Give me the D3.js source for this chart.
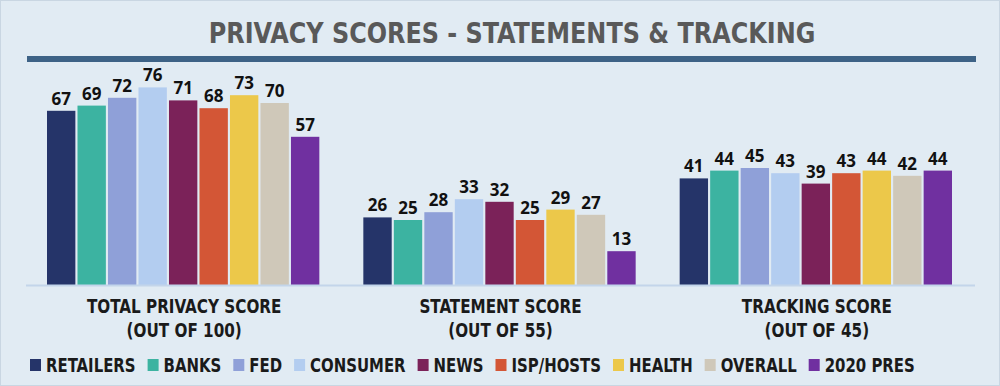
<!DOCTYPE html>
<html>
<head>
<meta charset="utf-8">
<script src="https://cdn.jsdelivr.net/npm/d3@7"></script>
<style>
  body { margin: 0; background: #e1ebf3; }
  svg { display: block; }
  .cond { font-family: "Liberation Sans Narrow", "DejaVu Sans Condensed", sans-serif; font-weight: bold; }
</style>
</head>
<body>
<div id="main_area"></div>
<script>
// 数据
var groups = ["TOTAL PRIVACY SCORE", "STATEMENT SCORE", "TRACKING SCORE"];
var groupSub = ["(OUT OF 100)", "(OUT OF 55)", "(OUT OF 45)"];
var seriesNames = ["RETAILERS", "BANKS", "FED", "CONSUMER", "NEWS", "ISP/HOSTS", "HEALTH", "OVERALL", "2020 PRES"];
var totalScore = [67, 69, 72, 76, 71, 68, 73, 70, 57];
var statementScore = [26, 25, 28, 33, 32, 25, 29, 27, 13];
var trackingScore = [41, 44, 45, 43, 39, 43, 44, 42, 44];
var colors = ["#253469", "#3cb3a1", "#8fa0d8", "#b3cdf0", "#7b2259", "#d35636", "#ecc84a", "#cfc8b9", "#7030a0"];

var values = [totalScore, statementScore, trackingScore];

var W = 1000, H = 386;
var svg = d3.select("#main_area").append("svg")
    .attr("width", W)
    .attr("height", H);

svg.append("rect")
    .attr("x", 0.5).attr("y", 0.5)
    .attr("width", W - 1).attr("height", H - 1)
    .attr("fill", "#e1ebf3")
    .attr("stroke", "#c9d6e2");

// 窄字体：横向压缩
function condText(parent, x, y, size, sx, anchor, txt, fill) {
    return parent.append("text")
        .attr("class", "cond")
        .attr("transform", "translate(" + x + "," + y + ") scale(" + sx + ",1)")
        .attr("text-anchor", anchor)
        .attr("font-size", size)
        .attr("fill", fill)
        .text(txt);
}

// 标题
condText(svg, 512, 43, 28, 0.95, "middle", "PRIVACY SCORES - STATEMENTS & TRACKING", "#595959");

svg.append("rect")
    .attr("x", 27).attr("y", 56)
    .attr("width", 949).attr("height", 6)
    .attr("fill", "#3d6286");

// 比例尺
var x0 = d3.scaleBand()
    .domain(groups)
    .range([26, 975])
    .paddingInner(0)
    .paddingOuter(0);
var x1 = d3.scaleBand()
    .domain(seriesNames)
    .range([21, x0.bandwidth() - 23])
    .paddingInner(0.07);
var y = d3.scaleLinear()
    .domain([0, 100])
    .range([285, 25]);

var g = svg.selectAll("g.grp")
    .data(groups)
    .enter()
    .append("g")
    .attr("class", "grp")
    .attr("transform", function (d) { return "translate(" + x0(d) + ",0)"; });

g.selectAll("rect")
    .data(function (d, i) {
        return values[i].map(function (v, j) { return {name: seriesNames[j], v: v, c: colors[j]}; });
    })
    .enter()
    .append("rect")
    .attr("x", function (d) { return x1(d.name); })
    .attr("y", function (d) { return y(d.v); })
    .attr("width", x1.bandwidth())
    .attr("height", function (d) { return y(0) - y(d.v); })
    .attr("fill", function (d) { return d.c; });

g.selectAll("text.val")
    .data(function (d, i) {
        return values[i].map(function (v, j) { return {name: seriesNames[j], v: v}; });
    })
    .enter()
    .append("text")
    .attr("class", "val")
    .attr("x", function (d) { return x1(d.name) + x1.bandwidth() / 2; })
    .attr("y", function (d) { return y(d.v) - 6; })
    .attr("text-anchor", "middle")
    .attr("font-family", "'Open Sans', sans-serif")
    .attr("font-size", 17)
    .attr("font-weight", "bold")
    .attr("fill", "#111")
    .text(function (d) { return d.v; });

// x轴
svg.append("line")
    .attr("x1", 26).attr("x2", 975)
    .attr("y1", y(0) + 0.5).attr("y2", y(0) + 0.5)
    .attr("stroke", "#c3d5ea")
    .attr("stroke-width", 2);

g.each(function (d, i) {
    var gg = d3.select(this);
    condText(gg, x0.bandwidth() / 2, 313, 19, 0.89, "middle", d, "#1a1a1a");
    condText(gg, x0.bandwidth() / 2, 337, 19, 0.89, "middle", groupSub[i], "#1a1a1a");
});

// 图例
var lg = svg.append("g");
var lx = 30;
seriesNames.forEach(function (name, i) {
    lg.append("rect")
        .attr("x", lx).attr("y", 359)
        .attr("width", 11).attr("height", 12)
        .attr("fill", colors[i]);
    var t = condText(lg, lx + 16, 372, 20, 0.83, "start", name, "#1a1a1a");
    lx += 16 + t.node().getComputedTextLength() * 0.83 + 12;
});
</script>
</body>
</html>
